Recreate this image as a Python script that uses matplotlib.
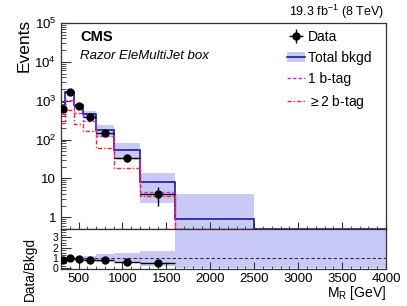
import numpy as np
import matplotlib
matplotlib.use("Agg")
import matplotlib.pyplot as plt
from matplotlib.ticker import FixedLocator, MultipleLocator, FuncFormatter, LogLocator, NullFormatter
from matplotlib.patches import Rectangle
from matplotlib.lines import Line2D

plt.rcParams['font.family'] = ['Liberation Sans', 'DejaVu Sans']
plt.rcParams['mathtext.fontset'] = 'custom'
plt.rcParams['mathtext.rm'] = 'Liberation Sans'
plt.rcParams['mathtext.it'] = 'Liberation Sans:italic'
plt.rcParams['mathtext.bf'] = 'Liberation Sans:bold'
plt.rcParams['mathtext.default'] = 'regular'

# ---------------- data ----------------
bin_edges = [300, 350, 450, 550, 700, 900, 1200, 1600, 2500, 4000]
data_counts = [620, 1670, 714, 382, 149, 33, 4, 0, 0]
total_bkgd = [720, 1650, 760, 457, 181, 54, 8.3, 0.9, 0.05]
bkgd_low = [650, 1540, 690, 390, 118, 34, 2.3, 0.0, 0.0]
bkgd_high = [790, 1780, 830, 555, 244, 83, 14, 3.9, 0.4]
btag1 = [450, 1060, 490, 296, 122, 34, 4.6, 0.5, 0.03]
btag2 = [270, 590, 254, 164, 59, 19, 3.5, 0.4, 0.02]

legend_labels = ["Data", "Total bkgd", "1 b-tag", r"$\geq$2 b-tag"]
x_ticks = [500, 1000, 1500, 2000, 2500, 3000, 3500, 4000]
ratio_ticks = [0, 1, 2, 3]

# ---------------- styles ----------------
band_color = '#c9c9f7'
bkgd_color = '#1a1aa0'
b1_color = '#e020e0'
b2_color = '#ff2020'
ymin, ymax = 0.5, 1e5
rmin, rmax = -0.05, 3.8

edges = np.array(bin_edges, float)
centers = 0.5 * (edges[1:] + edges[:-1])
halfw = 0.5 * (edges[1:] - edges[:-1])
data = np.array(data_counts, float)
bk = np.array(total_bkgd, float)
lo = np.array(bkgd_low, float)
hi = np.array(bkgd_high, float)
b1 = np.array(btag1, float)
b2 = np.array(btag2, float)

fig = plt.figure(figsize=(4.07, 3.06), dpi=100)
W, H = 407, 306
L, R = 61, 386
ax = fig.add_axes([L / W, (H - 229) / H, (R - L) / W, (229 - 23) / H])
axr = fig.add_axes([L / W, (H - 269) / H, (R - L) / W, (269 - 229) / H], sharex=ax)

# ---------------- main panel ----------------
ax.set_yscale('log')
ax.stairs(np.clip(hi, 0.1, None), edges, baseline=np.clip(lo, 0.1, None), fill=True,
          color=band_color, lw=0, zorder=1)
ax.stairs(np.clip(bk, ymin, None), edges, baseline=None, color=bkgd_color, lw=1.2, zorder=3)
ax.stairs(np.clip(b1, ymin, None), edges, baseline=None, color=b1_color, lw=1.0,
          linestyle=(0, (2.5, 1.5)), zorder=4)
ax.stairs(np.clip(b2, ymin, None), edges, baseline=None, color=b2_color, lw=1.0,
          linestyle=(0, (3, 1.5, 1, 1.5)), zorder=4)

m = data > 0
derr = np.sqrt(data)
eb = ax.errorbar(centers[m], data[m], yerr=derr[m], xerr=halfw[m], fmt='o', color='black',
                 ms=5, lw=1.0, capsize=0, zorder=5)

ax.set_xlim(300, 4000)
ax.set_ylim(ymin, ymax)

def log_fmt(v, pos):
    if v <= 0:
        return ''
    e = int(round(np.log10(v)))
    if e == 0:
        return '1'
    if e == 1:
        return '10'
    return r'$10^{%d}$' % e

ax.yaxis.set_major_locator(LogLocator(base=10, numticks=10))
ax.yaxis.set_minor_locator(LogLocator(base=10, subs=np.arange(2, 10), numticks=20))
ax.yaxis.set_major_formatter(FuncFormatter(log_fmt))
ax.yaxis.set_minor_formatter(NullFormatter())
ax.tick_params(axis='both', which='both', direction='in', labelsize=9.5, color='#333333')
ax.tick_params(axis='y', which='major', length=7, left=True, right=False)
ax.tick_params(axis='y', which='minor', length=3.5, left=True, right=False)
ax.tick_params(axis='x', which='major', length=5, top=False, labelbottom=False)
ax.tick_params(axis='x', which='minor', length=2.5, top=False)
ax.xaxis.set_major_locator(FixedLocator(x_ticks))
ax.xaxis.set_minor_locator(MultipleLocator(100))
for s in ax.spines.values():
    s.set_color('#333333')
    s.set_linewidth(0.9)

# legend
hband = (Rectangle((0, 0), 1, 1, facecolor=band_color, edgecolor='none'),
         Line2D([], [], color=bkgd_color, lw=1.2))
h1 = Line2D([], [], color=b1_color, lw=1.0, linestyle=(0, (2.5, 1.5)))
h2 = Line2D([], [], color=b2_color, lw=1.0, linestyle=(0, (3, 1.5, 1, 1.5)))
leg = ax.legend([eb, hband, h1, h2], legend_labels, loc='upper left',
                bbox_to_anchor=(284 / W, (H - 27) / H), bbox_transform=fig.transFigure,
                frameon=False, fontsize=10, handlelength=1.3, handletextpad=0.25,
                labelspacing=0.5, borderpad=0.2, borderaxespad=0)

fig.text(80 / W, (H - 37) / H, 'CMS', fontsize=10.5, fontweight='bold', va='center', ha='left')
fig.text(80 / W, (H - 56) / H, 'Razor EleMultiJet box', fontsize=9.5, style='italic',
         va='center', ha='left')
fig.text(384 / W, (H - 12) / H, r'19.3 fb$^{-1}$ (8 TeV)', fontsize=9, va='center', ha='right')
fig.text(24 / W, (H - 45) / H, 'Events', fontsize=12.5, rotation=90, va='center', ha='center')

# ---------------- ratio panel ----------------
ratio_lo = np.where(bk > 0, lo / bk, 0)
ratio_hi = np.where(bk > 0, hi / bk, rmax)
axr.stairs(np.clip(ratio_hi, rmin, rmax + 1), edges, baseline=np.clip(ratio_lo, rmin - 1, None),
           fill=True, color=band_color, lw=0, zorder=1)
axr.axhline(1.0, color='#333333', lw=0.8, linestyle=(0, (3, 2)), zorder=2)
ratio = data[m] / bk[m]
ratio_err = derr[m] / bk[m]
axr.errorbar(centers[m], ratio, yerr=ratio_err, xerr=halfw[m], fmt='o', color='black',
             ms=5, lw=1.0, capsize=0, zorder=5)
axr.set_ylim(rmin, rmax)
axr.set_xlim(300, 4000)
axr.yaxis.set_major_locator(FixedLocator(ratio_ticks))
axr.yaxis.set_minor_locator(MultipleLocator(0.25))
axr.tick_params(axis='both', which='both', direction='in', labelsize=9.5, color='#333333')
axr.tick_params(axis='y', which='major', length=7, left=True, right=False, pad=2, labelsize=7.5)
axr.tick_params(axis='y', which='minor', length=3.5, left=True, right=False)
axr.tick_params(axis='x', which='major', length=5, top=False, pad=3)
axr.tick_params(axis='x', which='minor', length=2.5, top=False)
axr.xaxis.set_major_locator(FixedLocator(x_ticks))
axr.xaxis.set_minor_locator(MultipleLocator(100))
for s in axr.spines.values():
    s.set_color('#333333')
    s.set_linewidth(0.9)

fig.text(386 / W, (H - 293) / H, r'M$_{R}$ [GeV]', fontsize=10, va='center', ha='right')
fig.text(30 / W, (H - 269) / H, 'Data/Bkgd', fontsize=9.8, rotation=90, va='center', ha='center')

fig.savefig('out.png', dpi=100)
